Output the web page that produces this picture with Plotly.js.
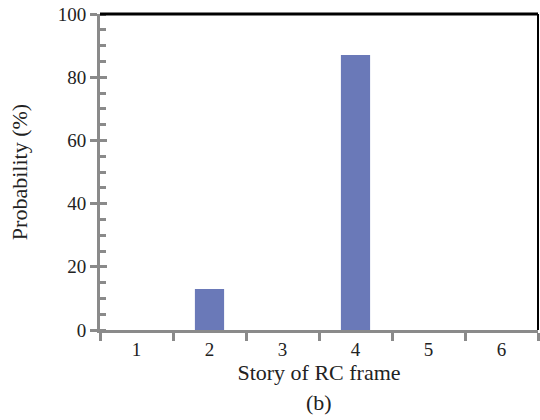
<!DOCTYPE html>
<html>
<head>
<meta charset="utf-8">
<script src="https://cdn.plot.ly/plotly-3.0.1.min.js"></script>
<style>html,body{margin:0;padding:0;background:#fff;}</style>
</head>
<body>
<div id="chart" style="width:540px;height:420px;"></div>
<script>
const stories = ['1', '2', '3', '4', '5', '6'];
const probability = [0, 13, 0, 87, 0, 0];
const yTicks = [0, 20, 40, 60, 80, 100];

const axisGrey = '#8a8a8a';
const fontFam = '"Liberation Serif", "Times New Roman", serif';

const data = [{
  type: 'bar',
  x: stories,
  y: probability,
  width: 0.4,
  marker: {color: '#6a79b8', line: {width: 0}},
  hoverinfo: 'x+y'
}];

const layout = {
  width: 540,
  height: 420,
  margin: {l: 100, r: 2, t: 14, b: 90},
  paper_bgcolor: '#fff',
  plot_bgcolor: '#fff',
  showlegend: false,
  font: {family: fontFam, size: 19, color: '#222'},
  xaxis: {
    type: 'category',
    range: [-0.5, 5.5],
    tickson: 'boundaries',
    ticks: 'outside',
    ticklen: 8,
    tickwidth: 3,
    tickcolor: axisGrey,
    showline: true,
    linecolor: axisGrey,
    linewidth: 3,
    showgrid: false,
    zeroline: false,
    tickfont: {family: fontFam, size: 19, color: '#222'},
    title: {text: 'Story of RC frame', font: {family: fontFam, size: 22, color: '#222'}, standoff: 5}
  },
  yaxis: {
    range: [0, 100],
    tickvals: yTicks,
    ticktext: yTicks.map(String),
    ticks: 'outside',
    ticklen: 7,
    tickwidth: 3,
    tickcolor: axisGrey,
    minor: {dtick: 5, tick0: 0, ticks: 'inside', ticklen: 6, tickwidth: 3, tickcolor: axisGrey},
    showline: true,
    linecolor: axisGrey,
    linewidth: 3,
    showgrid: false,
    zeroline: false,
    tickfont: {family: fontFam, size: 19, color: '#222'},
    title: {text: 'Probability (%)', font: {family: fontFam, size: 22, color: '#222'}, standoff: 25}
  },
  yaxis2: {
    overlaying: 'y',
    matches: 'y',
    side: 'left',
    tickvals: yTicks,
    ticks: 'inside',
    ticklen: 7,
    tickwidth: 3,
    tickcolor: axisGrey,
    showticklabels: false,
    showline: false,
    showgrid: false,
    zeroline: false
  },
  shapes: [
    {type: 'line', xref: 'paper', yref: 'paper', x0: 0, x1: 1, y0: 1, y1: 1, line: {color: '#000', width: 3}},
    {type: 'line', xref: 'paper', yref: 'paper', x0: 1, x1: 1, y0: 0, y1: 1, line: {color: '#000', width: 2}}
  ],
  annotations: [
    {text: '(b)', xref: 'paper', yref: 'paper', x: 0.5, y: 0, yshift: -72, showarrow: false,
     xanchor: 'center', yanchor: 'middle', font: {family: fontFam, size: 22, color: '#222'}}
  ]
};

const overlay = {type: 'scatter', x: [], y: [], yaxis: 'y2', hoverinfo: 'skip', showlegend: false};

Plotly.newPlot('chart', data.concat([overlay]), layout, {displayModeBar: false, staticPlot: true});
</script>
</body>
</html>
